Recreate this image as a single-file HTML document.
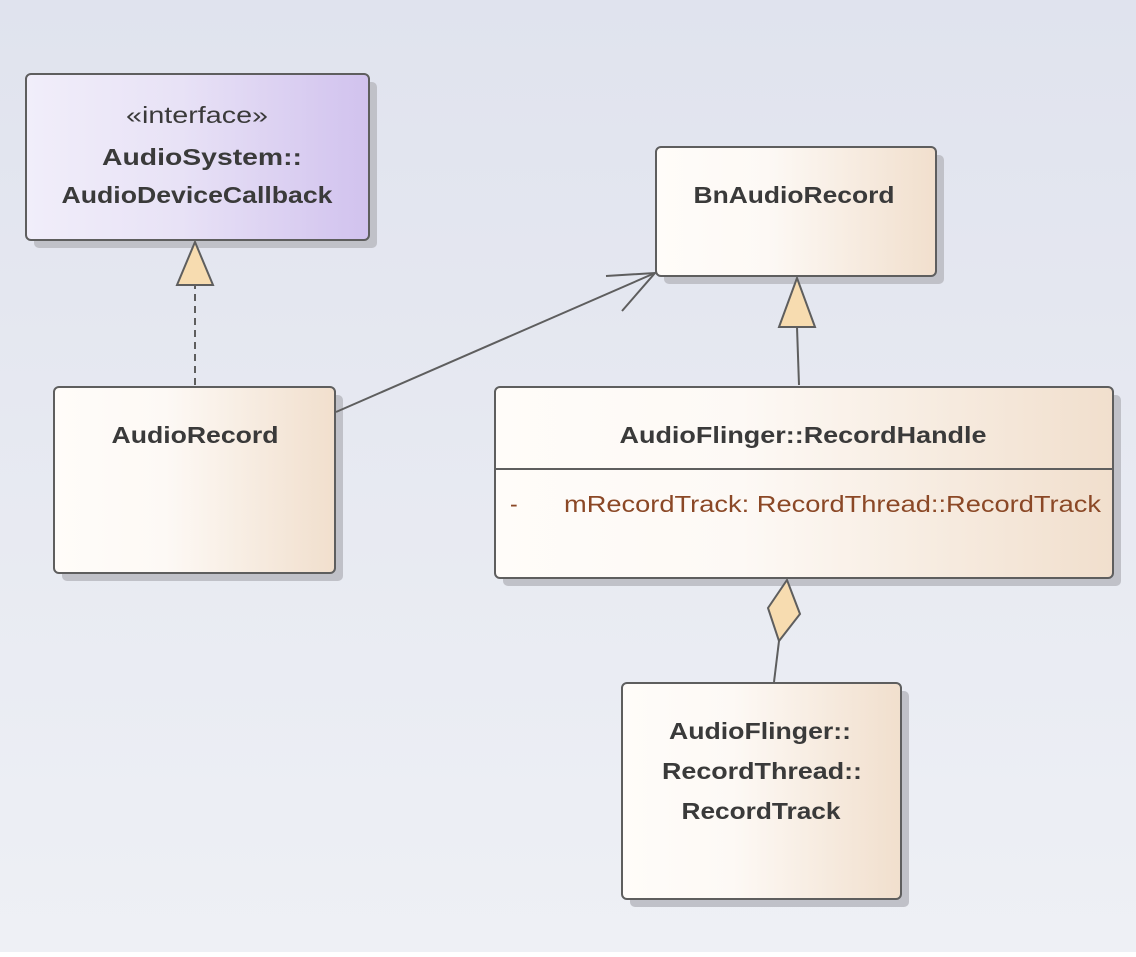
<!DOCTYPE html>
<html><head><meta charset="utf-8"><style>
html,body{margin:0;padding:0;}
body{width:1136px;height:952px;overflow:hidden;}
text{font-family:"Liberation Sans",sans-serif;}
</style></head><body>
<svg width="1136" height="952" xmlns="http://www.w3.org/2000/svg">
<defs>
<linearGradient id="bg" x1="0" y1="0" x2="0" y2="1"><stop offset="0" stop-color="#e0e3ee"/><stop offset="1" stop-color="#eef0f5"/></linearGradient>
<linearGradient id="nd" x1="0" y1="0" x2="1" y2="0"><stop offset="0" stop-color="#fffcf9"/><stop offset="0.4" stop-color="#fdf9f5"/><stop offset="1" stop-color="#f1dfcd"/></linearGradient>
<linearGradient id="pu" x1="0" y1="0" x2="1" y2="0"><stop offset="0" stop-color="#f1eefa"/><stop offset="0.45" stop-color="#e8e2f6"/><stop offset="1" stop-color="#d1c2ee"/></linearGradient>
</defs>
<rect width="1136" height="952" fill="url(#bg)"/>
<g fill="#c0c1c8">
<rect x="34" y="82" width="343" height="166" rx="5"/>
<rect x="664" y="155" width="280" height="129" rx="5"/>
<rect x="62" y="395" width="281" height="186" rx="5"/>
<rect x="503" y="395" width="618" height="191" rx="5"/>
<rect x="630" y="691" width="279" height="216" rx="5"/>
</g>
<g stroke="#5e5e5e" stroke-width="2">
<rect x="26" y="74" width="343" height="166" rx="5" fill="url(#pu)"/>
<rect x="656" y="147" width="280" height="129" rx="5" fill="url(#nd)"/>
<rect x="54" y="387" width="281" height="186" rx="5" fill="url(#nd)"/>
<rect x="495" y="387" width="618" height="191" rx="5" fill="url(#nd)"/>
<line x1="495" y1="469" x2="1113" y2="469"/>
<rect x="622" y="683" width="279" height="216" rx="5" fill="url(#nd)"/>
</g>
<g stroke="#5e5e5e" stroke-width="2" fill="none">
<line x1="195" y1="385" x2="195" y2="286" stroke-dasharray="7,5"/>
<line x1="336" y1="412" x2="655" y2="273"/>
<polyline points="606,276 655,273 622,311"/>
<line x1="799" y1="385" x2="797" y2="327"/>
<line x1="779" y1="641" x2="774" y2="682"/>
</g>
<g stroke="#5e5e5e" stroke-width="2" fill="#f7dcb0">
<polygon points="177,285 213,285 195,242"/>
<polygon points="779,327 815,327 797,278"/>
<polygon points="787,580 800,614 779,641 768,608"/>
</g>
<g fill="#3a3a3a" font-weight="bold" font-size="23" text-anchor="middle">
<text x="197" y="123" font-weight="normal" font-size="23" textLength="142" lengthAdjust="spacingAndGlyphs">«interface»</text>
<text x="202" y="165" textLength="200" lengthAdjust="spacingAndGlyphs">AudioSystem::</text>
<text x="197" y="203" textLength="271" lengthAdjust="spacingAndGlyphs">AudioDeviceCallback</text>
<text x="794" y="203" textLength="201" lengthAdjust="spacingAndGlyphs">BnAudioRecord</text>
<text x="195" y="443" textLength="167" lengthAdjust="spacingAndGlyphs">AudioRecord</text>
<text x="803" y="443" textLength="367" lengthAdjust="spacingAndGlyphs">AudioFlinger::RecordHandle</text>
<text x="760" y="739" textLength="182" lengthAdjust="spacingAndGlyphs">AudioFlinger::</text>
<text x="762" y="779" textLength="200" lengthAdjust="spacingAndGlyphs">RecordThread::</text>
<text x="761" y="819" textLength="159" lengthAdjust="spacingAndGlyphs">RecordTrack</text>
</g>
<g fill="#8b4826" font-size="23">
<text x="510" y="512">-</text>
<text x="564" y="512" textLength="537" lengthAdjust="spacingAndGlyphs">mRecordTrack: RecordThread::RecordTrack</text>
</g>
</svg>
</body></html>
